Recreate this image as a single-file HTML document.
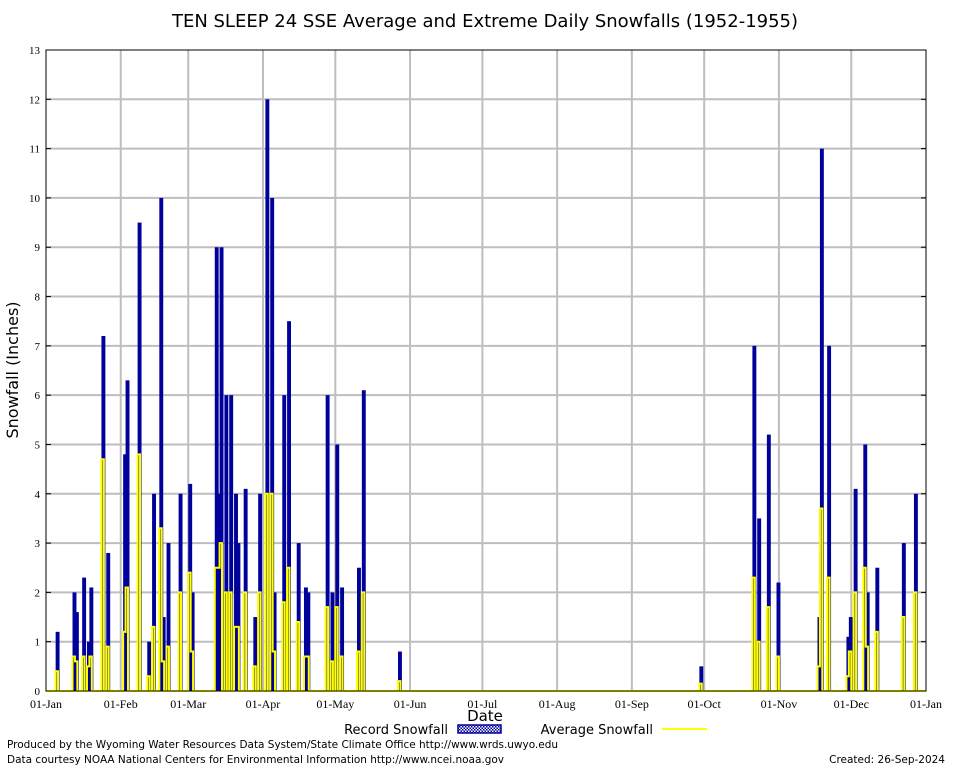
<!DOCTYPE html>
<html><head><meta charset="utf-8"><style>
body{margin:0;background:#fff;width:954px;height:768px;overflow:hidden}
svg text{font-family:"DejaVu Sans","Liberation Sans",sans-serif}
svg text.tick{font-family:"Liberation Serif",serif}
</style></head><body>
<svg id="chart" width="954" height="768" xmlns="http://www.w3.org/2000/svg">
<defs><pattern id="hatch" width="3" height="3" patternUnits="userSpaceOnUse"><rect width="3" height="3" fill="#fff"/><rect width="1.5" height="1.5" fill="#00009a"/><rect x="1.5" y="1.5" width="1.5" height="1.5" fill="#00009a"/></pattern></defs>
<text x="485" y="27" font-size="18" text-anchor="middle">TEN SLEEP 24 SSE Average and Extreme Daily Snowfalls (1952-1955)</text>
<g id="grid"></g><g id="bars"></g><g id="avg"></g><g id="axes"></g>
<text x="18" y="370" font-size="16" text-anchor="middle" transform="rotate(-90 18 370)">Snowfall (Inches)</text>
<text x="485" y="721" font-size="15" text-anchor="middle">Date</text>
<g>
<text x="448" y="734" font-size="13" text-anchor="end">Record Snowfall</text>
<rect x="458" y="725" width="43" height="8" fill="url(#hatch)" stroke="#00009a" stroke-width="1.5"/>
<text x="653" y="734" font-size="13" text-anchor="end">Average Snowfall</text>
<line x1="662" y1="729" x2="707" y2="729" stroke="#ffff00" stroke-width="2"/>
</g>
<text x="7" y="748" font-size="10.5" textLength="551">Produced by the Wyoming Water Resources Data System/State Climate Office http://www.wrds.uwyo.edu</text>
<text x="7" y="763" font-size="10.5" textLength="497">Data courtesy NOAA National Centers for Environmental Information http://www.ncei.noaa.gov</text>
<text x="945" y="763" font-size="10.5" text-anchor="end">Created:  26-Sep-2024</text>
</svg>
<script>
const days=[4,11,12,15,17,18,23,25,32,33,38,42,44,47,48,50,55,59,60,70,71,72,74,76,78,79,82,86,88,91,93,94,98,100,104,107,108,116,118,120,122,129,131,146,271,293,295,299,303,320,321,324,332,333,335,339,340,344,355,360];
const records=[1.2,2.0,1.6,2.3,1.0,2.1,7.2,2.8,4.8,6.3,9.5,1.0,4.0,10.0,1.5,3.0,4.0,4.2,2.0,9.0,4.0,9.0,6.0,6.0,4.0,3.0,4.1,1.5,4.0,12.0,10.0,2.0,6.0,7.5,3.0,2.1,2.0,6.0,2.0,5.0,2.1,2.5,6.1,0.8,0.5,7.0,3.5,5.2,2.2,1.5,11.0,7.0,1.1,1.5,4.1,5.0,2.0,2.5,3.0,4.0];
const averages=[0.4,0.7,0.6,0.7,0.5,0.7,4.7,0.9,1.2,2.1,4.8,0.3,1.3,3.3,0.6,0.9,2.0,2.4,0.8,2.5,2.5,3.0,2.0,2.0,1.3,1.3,2.0,0.5,2.0,4.0,4.0,0.8,1.8,2.5,1.4,0.7,0.7,1.7,0.6,1.7,0.7,0.8,2.0,0.2,0.15,2.3,1.0,1.7,0.7,0.5,3.7,2.3,0.3,0.8,2.0,2.5,0.9,1.2,1.5,2.0];
const monthLabels=["01-Jan","01-Feb","01-Mar","01-Apr","01-May","01-Jun","01-Jul","01-Aug","01-Sep","01-Oct","01-Nov","01-Dec","01-Jan"];
const monthStarts=[0,31,59,90,120,151,181,212,243,273,304,334,365];
const yTicks=[0,1,2,3,4,5,6,7,8,9,10,11,12,13];
const X0=46,X1=926,Y0=691,Y1=50;
const xs=d=>X0+d*(X1-X0)/365;
const ys=v=>Y0-v*(Y0-Y1)/13;
const NS="http://www.w3.org/2000/svg";
function mk(t,a,p){const e=document.createElementNS(NS,t);for(const k in a)e.setAttribute(k,a[k]);p.appendChild(e);return e;}
const grid=document.getElementById('grid'),axes=document.getElementById('axes'),bars=document.getElementById('bars'),avg=document.getElementById('avg');
yTicks.forEach(v=>{
 if(v>0&&v<13){const l=mk('line',{x1:X0,x2:X1,y1:ys(v),y2:ys(v),stroke:'#bebebe','stroke-width':2},grid);
 
 }
 const t=mk('text',{x:X0-6,y:ys(v)+4,'font-size':11,'text-anchor':'end','class':'tick'},axes);t.textContent=v;
 
 
 mk('line',{x1:X0,x2:X0+5,y1:ys(v),y2:ys(v),stroke:'#000'},axes);
 mk('line',{x1:X1-5,x2:X1,y1:ys(v),y2:ys(v),stroke:'#000'},axes);
});
monthStarts.forEach((d,i)=>{
 if(i>0&&i<12){const l=mk('line',{x1:xs(d),x2:xs(d),y1:Y1,y2:Y0,stroke:'#bebebe','stroke-width':2},grid);
 
 }
 const t=mk('text',{x:xs(d),y:Y0+17,'font-size':12,'text-anchor':'middle','class':'tick'},axes);t.textContent=monthLabels[i];
 
 
});
const w=(X1-X0)/365;
days.forEach((d,i)=>{
 const r=mk('rect',{x:xs(d),y:ys(records[i]),width:w+1.5,height:Y0-ys(records[i]),fill:'#00009a'},bars);
 
 
});
const full=new Array(366).fill(0);days.forEach((d,i)=>full[d]=averages[i]);
let pts=[];for(let d=0;d<365;d++){pts.push(xs(d)+','+ys(full[d]));pts.push(xs(d+1)+','+ys(full[d]));}
const pl=mk('polyline',{points:pts.join(' '),fill:'none',stroke:'#ffff00','stroke-width':2},avg);


const fr=mk('rect',{x:X0,y:Y1,width:X1-X0,height:Y0-Y1,fill:'none',stroke:'#000'},axes);


</script>
</body></html>
